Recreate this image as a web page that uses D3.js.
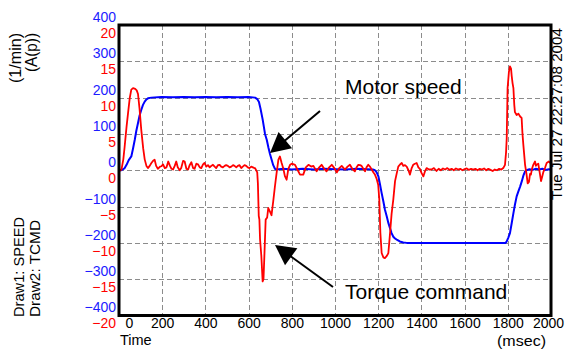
<!DOCTYPE html>
<html><head><meta charset="utf-8">
<script src="https://cdn.jsdelivr.net/npm/d3@7"></script>
<style>html,body{margin:0;padding:0;background:#fff;}svg{display:block;font-family:"Liberation Sans",Arial,sans-serif;}</style>
</head><body><svg id="c" width="565" height="349"></svg>
<script>
// ---- data ----
const xTicks = [0,200,400,600,800,1000,1200,1400,1600,1800,2000];
const speedTicks = [400,300,200,100,0,-100,-200,-300,-400];
const torqueTicks = [20,15,10,5,0,-5,-10,-15,-20];

// Motor speed (1/min), time in msec
const speedT = [0,11,25,35,45,57,65,73,80,88,95,103,111,119,127,134,150,196,250,300,350,400,450,500,550,600,630,640,648,655,665,676,684,692,699,707,714,722,730,760,800,850,900,950,1000,1050,1100,1150,1175,1185,1193,1201,1208,1216,1224,1231,1240,1247,1255,1262,1270,1278,1286,1300,1316,1332,1400,1500,1600,1700,1790,1795,1802,1810,1818,1826,1833,1841,1849,1857,1865,1872,1880,1887,1900,1915,1930,1945,1960,1975,1990,2000];
const speedV = [0,0,5,15,28,38,60,84,108,130,150,166,180,189,195,198,200,202,201,202,201,202,201,202,201,202,200,196,188,170,140,100,84,62,45,28,14,4,2,4,2,4,2,4,3,2,4,3,2,0,-6,-17,-38,-63,-86,-108,-128,-145,-160,-173,-183,-188,-191,-196,-199,-200,-200,-200,-200,-200,-200,-196,-186,-173,-146,-118,-95,-72,-58,-45,-30,-15,-3,0,3,1,4,2,4,1,3,2];

// Torque command (A(p)), time in msec
const torqueT = [0,8,12,20,26,35,42,50,57,65,75,82,88,95,103,112,119,127,134,142,150,158,165,172,180,190,196,204,212,220,228,236,243,250,258,265,272,281,288,297,304,312,320,327,335,343,350,358,366,374,381,389,396,404,412,420,427,435,443,450,458,466,473,481,489,496,504,512,520,528,535,543,550,558,566,573,581,589,596,604,612,620,626,630,640,643,647,650,653,659,665,669,673,679,686,691,699,706,714,722,730,738,745,753,761,768,776,784,792,800,815,826,838,853,865,877,890,900,915,927,938,950,961,973,985,997,1008,1020,1031,1046,1058,1069,1080,1092,1100,1108,1116,1123,1131,1139,1146,1154,1162,1170,1178,1185,1193,1200,1205,1210,1216,1224,1231,1240,1247,1255,1262,1270,1278,1286,1293,1301,1309,1316,1324,1332,1340,1347,1355,1362,1370,1378,1386,1393,1401,1409,1416,1424,1435,1447,1458,1470,1480,1490,1500,1510,1520,1530,1540,1550,1560,1570,1580,1590,1600,1610,1620,1630,1640,1650,1660,1670,1680,1690,1700,1710,1720,1730,1740,1750,1760,1770,1779,1787,1792,1795,1799,1805,1810,1815,1818,1822,1826,1830,1833,1841,1849,1857,1864,1868,1872,1880,1887,1892,1898,1903,1907,1912,1918,1926,1930,1934,1941,1947,1954,1960,1964,1972,1980,1990,2000];
const torqueV = [0,0,0.2,1.5,3.2,6,7.9,10,11.1,11.3,11.2,11,10.5,8.5,5.6,3,1.5,0.6,0.3,0.6,1.0,1.3,1.45,0.6,0.2,0.5,0.55,0.8,0.3,0.4,1.2,0.6,0.2,0.1,0.6,1.2,0.4,0,0.3,1.3,1.2,0.2,0.1,0.7,1.1,0.3,0.2,0.9,0.8,0.4,0.3,0.8,1.0,0.5,0.7,0.4,0.6,0.75,0.5,0.3,0.7,0.75,0.5,0.4,0.6,0.7,0.6,0.4,0.5,0.7,0.6,0.4,0.6,0.7,0.3,0.5,0.7,0.6,0.4,0.3,0.5,0.4,0.3,0.3,-0.3,-1.8,-6.3,-6.8,-9.5,-11.8,-15.3,-15,-11.8,-6.8,-6.5,-5.2,-5.7,-6.2,-4.3,-2.2,-0.3,1.45,1.9,1.0,0.2,-0.8,-1.3,0.2,0.75,0.9,0.75,0.1,-0.6,-0.6,0.4,0.75,0.5,0.6,-0.15,0.4,0.75,0.2,-0.15,0.4,0.75,0.3,-0.3,0.3,0.6,0.1,0.5,0.75,0.2,-0.15,0.4,0.75,0.7,0.6,0.2,-0.15,0.4,0.75,0.5,0.1,-0.3,-0.6,-1.2,-2,-4,-8.6,-11.4,-12,-12.1,-11.8,-11.4,-8.6,-6,-4,-1.5,-0.4,0.5,0.8,1.0,0.6,0.7,0.5,0,-0.6,0.3,0.75,0.9,1.0,0.4,0.2,-0.4,-0.85,-0.2,0.3,0.1,0.1,0.3,-0.1,0.2,0,0.25,0.1,0.3,0.05,0.2,0,0.25,0.1,0.2,0,0.15,0.25,0.05,0.2,0.1,0.2,0,0.2,0.1,0.25,0,0.2,0.05,-0.1,0.1,0,0.2,0.1,0.3,0.75,2.5,4.4,11.3,13.5,14.3,14.0,13,12,11.3,9,8,7.6,7.8,7.4,7.2,5,3.5,0.75,-0.6,-1.8,-1.6,-0.5,-0.6,0.2,0.75,1.2,0.6,0.8,0.9,-0.2,-1.5,-0.8,-0.3,0.3,1.0,1.2,0.9];

const speedData = speedT.map((t,i)=>[t,speedV[i]]);
const torqueData = torqueT.map((t,i)=>[t,torqueV[i]]);

// ---- layout ----
const L=119, R=551, T=25, B=315.5;
const svg = d3.select("#c");
const x = d3.scaleLinear().domain([0,2000]).range([L,R]);
const yS = d3.scaleLinear().domain([-400,400]).range([B,T]);
const yT = d3.scaleLinear().domain([-20,20]).range([B,T]);

svg.append("defs").append("clipPath").attr("id","clip")
  .append("rect").attr("x",L).attr("y",T).attr("width",R-L).attr("height",B-T);

// grid
const grid = svg.append("g").attr("stroke","#8c8c8c").attr("stroke-width",1).attr("stroke-dasharray","5,3");
grid.selectAll("line.v").data(xTicks.slice(1,-1)).join("line")
  .attr("x1",d=>Math.round(x(d))+0.5).attr("x2",d=>Math.round(x(d))+0.5).attr("y1",T).attr("y2",B);
grid.selectAll("line.h").data(speedTicks.slice(1,-1)).join("line")
  .attr("y1",d=>Math.round(yS(d))+0.5).attr("y2",d=>Math.round(yS(d))+0.5).attr("x1",L).attr("x2",R);

// series
const g = svg.append("g").attr("clip-path","url(#clip)");
g.append("path").datum(speedData)
  .attr("d", d3.line().x(d=>x(d[0])).y(d=>yS(d[1])))
  .attr("fill","none").attr("stroke","#0000ff").attr("stroke-width",2).attr("stroke-linejoin","round");
g.append("path").datum(torqueData)
  .attr("d", d3.line().x(d=>x(d[0])).y(d=>yT(d[1])))
  .attr("fill","none").attr("stroke","#ff0000").attr("stroke-width",1.8).attr("stroke-linejoin","round");

// border
svg.append("rect").attr("x",L).attr("y",T).attr("width",R-L).attr("height",B-T)
  .attr("fill","none").attr("stroke","#000").attr("stroke-width",3);

// axes labels
const fs = 14;
const fmtSigned = d => d<0 ? "\u2212"+(-d) : String(d);
const ax1 = svg.append("g").attr("transform","translate(116,0)")
  .call(d3.axisLeft(yS).tickValues(speedTicks).tickSize(0).tickPadding(0).tickFormat(fmtSigned));
ax1.select(".domain").remove();
ax1.selectAll("text").attr("y",-8).attr("fill","#1c1cff").style("font-size",fs+"px").style("font-family","'Liberation Sans',Arial,sans-serif");

const ax2 = svg.append("g").attr("transform","translate(116,0)")
  .call(d3.axisLeft(yT).tickValues(torqueTicks).tickSize(0).tickPadding(0).tickFormat(fmtSigned));
ax2.select(".domain").remove();
ax2.selectAll("text").attr("y",8).attr("fill","#ff0000").style("font-size",fs+"px").style("font-family","'Liberation Sans',Arial,sans-serif");

const ax3 = svg.append("g").attr("transform","translate(0,316)")
  .call(d3.axisBottom(x).tickValues(xTicks).tickSize(0).tickPadding(0).tickFormat(d3.format("d")));
ax3.select(".domain").remove();
ax3.selectAll("text").attr("y",2).attr("x",d=>d===0?10:(d===2000?-3:0)).attr("fill","#000").style("font-size",fs+"px").style("font-family","'Liberation Sans',Arial,sans-serif");

// other texts
const txt = (s,x0,y0,opt={}) => {
  const t = svg.append("text").text(s).attr("fill",opt.fill||"#000")
    .style("font-size",(opt.size||14)+"px").attr("text-anchor",opt.anchor||"start");
  if (opt.rot) t.attr("transform",`translate(${x0},${y0}) rotate(-90)`); else t.attr("x",x0).attr("y",y0);
  if (opt.len) t.attr("textLength",opt.len).attr("lengthAdjust","spacingAndGlyphs");
  return t;
};
txt("(1/min)",21,33,{rot:true,anchor:"end",size:16,len:50});
txt("(A(p))",37,33,{rot:true,anchor:"end",size:16,len:39});
txt("Draw1: SPEED",24,317,{rot:true,size:14.5,len:100});
txt("Draw2: TCMD",40,317,{rot:true,size:14.5,len:97});
txt("Tue Jul 27 22:27:08 2004",562,200,{rot:true,size:15,len:172});
txt("Time",120,345,{size:14.5});
txt("(msec)",497,346,{size:14,len:49});
txt("Motor speed",345,94,{size:21});
txt("Torque command",345,299,{size:21});

// arrows
function arrow(x1,y1,x2,y2){
  const dx=x2-x1, dy=y2-y1, len=Math.hypot(dx,dy), ux=dx/len, uy=dy/len;
  const hl=20, hw=10.5;
  const bx=x2-ux*hl, by=y2-uy*hl;
  svg.append("line").attr("x1",x1).attr("y1",y1).attr("x2",bx+ux*2).attr("y2",by+uy*2)
    .attr("stroke","#000").attr("stroke-width",2);
  svg.append("path").attr("d",`M${x2},${y2}L${bx-uy*hw},${by+ux*hw}L${bx+uy*hw},${by-ux*hw}Z`).attr("fill","#000");
}
arrow(320,111,270,153);
arrow(333,287,275,245);
</script></body></html>
